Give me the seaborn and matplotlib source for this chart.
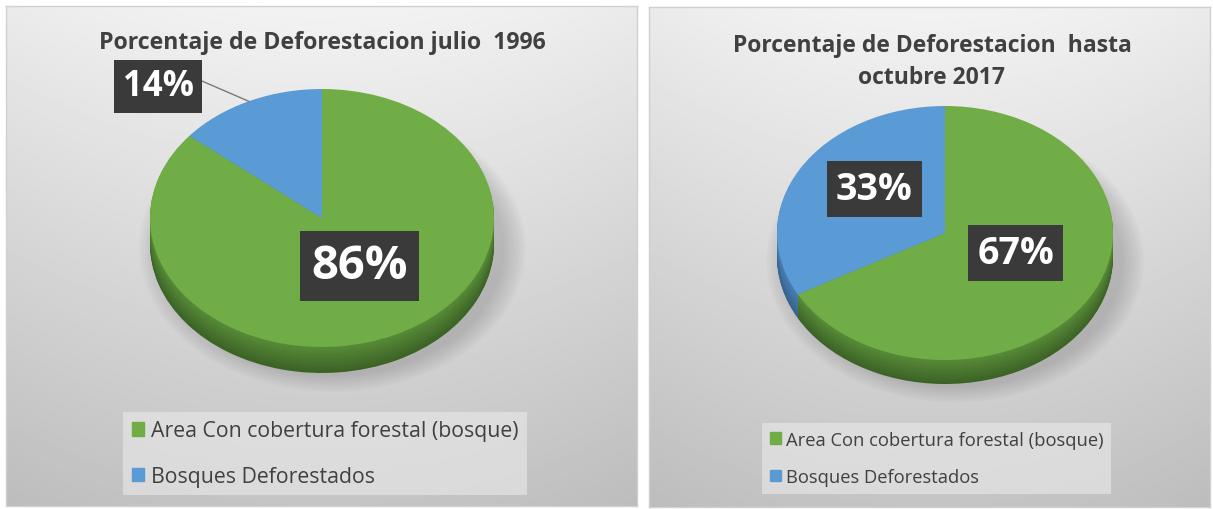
import numpy as np
import matplotlib.pyplot as plt
import matplotlib.patches as mpatches
import seaborn as sns

# datos
categorias = ['Area Con cobertura forestal (bosque)', 'Bosques Deforestados']
valores_1996 = [86, 14]
valores_2017 = [67, 33]
titulo_1996 = 'Porcentaje de Deforestacion julio  1996'
titulo_2017 = 'Porcentaje de Deforestacion  hasta\noctubre 2017'

sns.set_theme(style='white')
plt.rcParams['font.family'] = ['Open Sans', 'DejaVu Sans']

colores = ['#70AD47', '#5B9BD5']
lat_arriba = ['#588C38', '#4A80B4']
lat_abajo = ['#3C6226', '#36628C']

W, H = 1213, 510
fig = plt.figure(figsize=(W / 100, H / 100), dpi=100)
fig.patch.set_facecolor('white')


def rect(x0, y0, x1, y1):
    return [x0 / W, 1 - y1 / H, (x1 - x0) / W, (y1 - y0) / H]


def fondo(x0, y0, x1, y1):
    ax = fig.add_axes(rect(x0, y0, x1, y1))
    yy, xx = np.mgrid[0:1:200j, 0:1:200j]
    g = 0.95 - 0.18 * yy - 0.12 * (xx - 0.5) ** 2
    ax.imshow(g, cmap='gray', vmin=0, vmax=1, extent=[0, 1, 0, 1],
              origin='upper', aspect='auto')
    ax.set_xticks([])
    ax.set_yticks([])
    for s in ax.spines.values():
        s.set_color('#D0D0D0')
        s.set_linewidth(1)
    return ax


def mezcla(c1, c2, t):
    a = np.array(sns.color_palette([c1, c2]))
    return tuple(a[0] * (1 - t) + a[1] * t)


def pastel(valores, cx, cy, a, b, prof):
    d = prof / b
    ax = fig.add_axes(rect(cx - a, cy - b, cx + a, cy + b + prof))
    ax.set_facecolor('none')
    # sombra
    for k in range(8):
        ax.add_patch(mpatches.Ellipse((0.06, -d - 0.03), 2.0 + k * 0.035, 1.98 + k * 0.035,
                                      color='#707070', alpha=0.045, lw=0, clip_on=False))
    # lateral 3D
    n = int(prof)
    for i in range(n, 0, -1):
        t = i / n
        cols = [mezcla(lat_arriba[j], lat_abajo[j], t) for j in range(2)]
        ax.pie(valores, colors=cols, startangle=90, counterclock=False,
               center=(0, -d * t), radius=1, frame=True,
               wedgeprops=dict(linewidth=0, clip_on=False))
    cuñas, _ = ax.pie(valores, colors=colores, startangle=90, counterclock=False,
                      radius=1, frame=True, wedgeprops=dict(linewidth=0, clip_on=False))
    ax.set_aspect('auto')
    ax.set_xlim(-1, 1)
    ax.set_ylim(-1 - d, 1)
    ax.axis('off')
    return ax, cuñas


def etiqueta(ax, cuña, r, dy):
    # dy: vértice desplazado por la perspectiva
    t = np.deg2rad((cuña.theta1 + cuña.theta2) / 2)
    return r * np.cos(t), r * np.sin(t) + dy


caja = dict(boxstyle='square,pad=0.24', facecolor='#3A3A3A', edgecolor='none')

# panel 1996
fondo(6, 7, 637, 507)
fig.text(322 / W, 1 - 43 / H, titulo_1996, ha='center', va='center',
         fontsize=16.7, fontweight='bold', color='#404040')
ax1, c1 = pastel(valores_1996, 322, 219, 172, 129, 26)
x, y = etiqueta(ax1, c1[0], 0.51, 0.09)
ax1.text(x, y, f'{valores_1996[0]}%', ha='center', va='center',
         fontsize=34, fontweight='bold', color='white', bbox=caja)
x, y = etiqueta(ax1, c1[1], 1.0, 0.0)
ax1.annotate(f'{valores_1996[1]}%', xy=(x, y), xytext=(-0.953, 1.02),
             ha='center', va='center', fontsize=25, fontweight='bold', color='white',
             bbox=caja, annotation_clip=False,
             arrowprops=dict(arrowstyle='-', color='#7A7A7A', lw=1,
                             relpos=(1, 0.75), shrinkA=0, shrinkB=0))
fig.legend([mpatches.Patch(color=c) for c in colores], categorias,
           loc='upper left', bbox_to_anchor=(123 / W, 1 - 413 / H),
           fontsize=15.3, frameon=True, fancybox=False, framealpha=0.6,
           facecolor='#EAEAEA', edgecolor='none', handlelength=0.6,
           handleheight=0.6, handletextpad=0.3, labelspacing=1.15,
           borderpad=0.4, borderaxespad=0, labelcolor='#404040')

# panel 2017
fondo(649, 8, 1210, 508)
fig.text(932 / W, 1 - 62 / H, titulo_2017, ha='center', va='center',
         fontsize=16.5, fontweight='bold', color='#404040', linespacing=1.45)
ax2, c2 = pastel(valores_2017, 945, 234, 168, 127, 24)
for cuña, v in zip(c2, valores_2017):
    x, y = etiqueta(ax2, cuña, 0.49, 0.095)
    ax2.text(x, y, f'{v}%', ha='center', va='center',
             fontsize=27, fontweight='bold', color='white', bbox=caja)
fig.legend([mpatches.Patch(color=c) for c in colores], categorias,
           loc='upper left', bbox_to_anchor=(762 / W, 1 - 424 / H),
           fontsize=13.2, frameon=True, fancybox=False, framealpha=0.6,
           facecolor='#EAEAEA', edgecolor='none', handlelength=0.6,
           handleheight=0.6, handletextpad=0.3, labelspacing=1.05,
           borderpad=0.42, borderaxespad=0, labelcolor='#404040')

fig.savefig('out.png', dpi=100)
